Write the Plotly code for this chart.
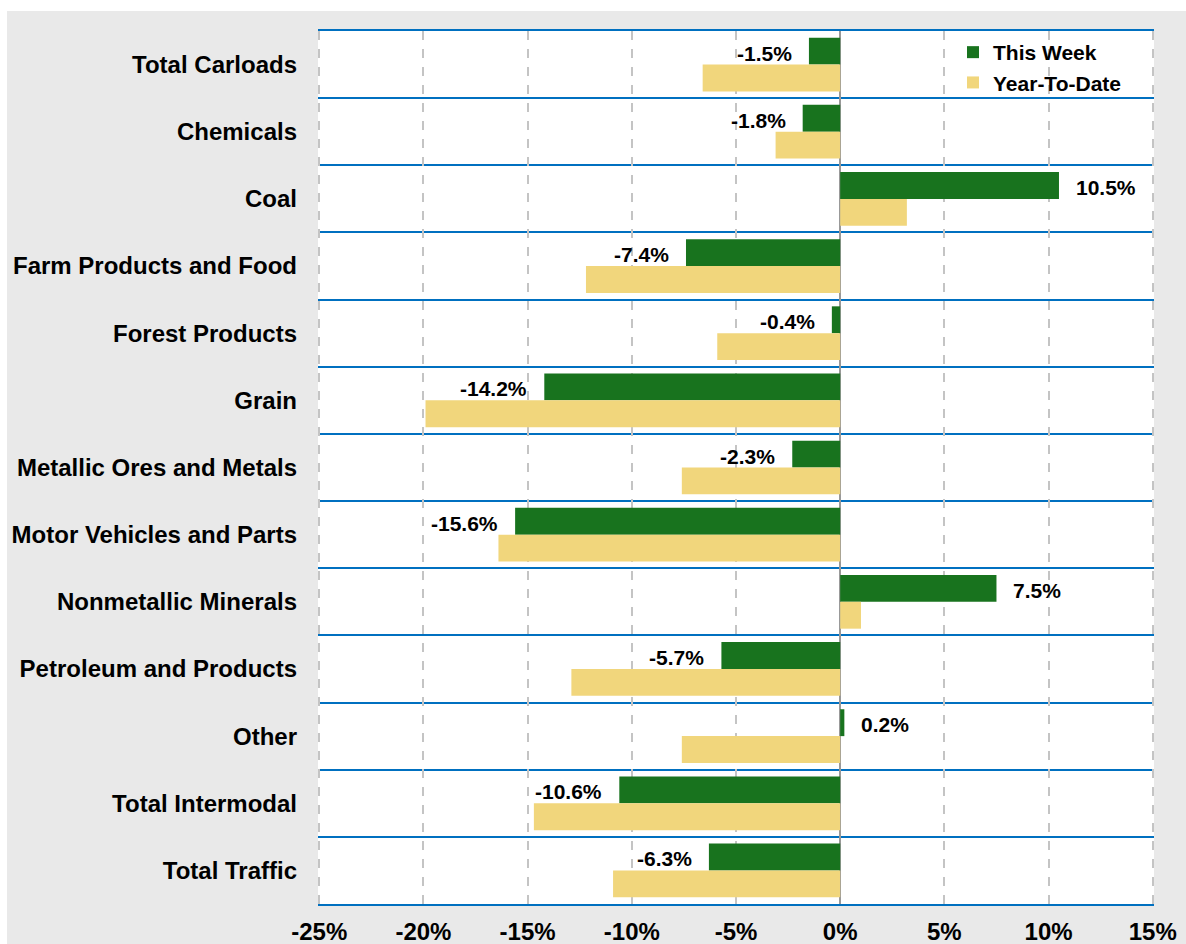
import plotly.graph_objects as go

categories = ["Total Carloads", "Chemicals", "Coal", "Farm Products and Food", "Forest Products",
              "Grain", "Metallic Ores and Metals", "Motor Vehicles and Parts", "Nonmetallic Minerals",
              "Petroleum and Products", "Other", "Total Intermodal", "Total Traffic"]
this_week = [-1.5, -1.8, 10.5, -7.4, -0.4, -14.2, -2.3, -15.6, 7.5, -5.7, 0.2, -10.6, -6.3]
year_to_date = [-6.6, -3.1, 3.2, -12.2, -5.9, -19.9, -7.6, -16.4, 1.0, -12.9, -7.6, -14.7, -10.9]
x_ticks = [-25, -20, -15, -10, -5, 0, 5, 10, 15]

FONT = "Liberation Sans, Arial, sans-serif"
GREEN = "#18731e"
YELLOW = "#f1d67c"
BLUE = "#0070c0"

pos = list(range(len(categories)))
boundaries = [i - 0.5 for i in range(len(categories) + 1)]

fig = go.Figure()
fig.add_trace(go.Bar(x=this_week, y=pos, orientation="h", name="This Week",
                     marker=dict(color=GREEN, line=dict(width=0)), width=0.4, offset=-0.4))
fig.add_trace(go.Bar(x=year_to_date, y=pos, orientation="h", name="Year-To-Date",
                     marker=dict(color=YELLOW, line=dict(width=0)), width=0.4, offset=0.0))

annotations = []
for i, v in enumerate(this_week):
    annotations.append(dict(
        x=v, y=i - 0.2, xref="x", yref="y", text=f"{v:.1f}%", showarrow=False,
        xanchor="right" if v < 0 else "left", xshift=-15 if v < 0 else 15, yshift=-2,
        font=dict(family=FONT, size=21, color="black", weight="bold")))

W, H = 1186, 944
ml, mr, mt, mb = 318, 32, 31, 40
pw, ph = W - ml - mr, H - mt - mb
x_range = [-25.06, 15.06]
zero_pos = (0 - x_range[0]) / (x_range[1] - x_range[0])

shapes = [
    dict(type="rect", xref="paper", yref="paper",
         x0=(7 - ml) / pw, x1=(W + 20 - ml) / pw,
         y0=(H - mb - (H + 20)) / ph, y1=(H - mb - 11) / ph,
         fillcolor="#e9e9e9", line=dict(width=0), layer="below"),
    dict(type="rect", xref="paper", yref="paper", x0=0, x1=1, y0=0, y1=1,
         fillcolor="white", line=dict(width=0), layer="below"),
]

fig.update_layout(
    width=W, height=H, autosize=False,
    margin=dict(l=ml, r=mr, t=mt, b=mb, autoexpand=False),
    paper_bgcolor="white", plot_bgcolor="white",
    barmode="overlay",
    font=dict(family=FONT, color="black"),
    shapes=shapes,
    annotations=annotations,
    showlegend=True,
    legend=dict(x=(953 - ml) / pw, y=1 - (32 - mt) / ph, xanchor="left", yanchor="top",
                bgcolor="rgba(0,0,0,0)", tracegroupgap=0,
                font=dict(family=FONT, size=21, color="black", weight="bold")),
    xaxis=dict(range=x_range, tickvals=x_ticks, ticktext=[f"{t}%" for t in x_ticks],
               showgrid=True, gridcolor="#c4c4c4", gridwidth=1.5, griddash="dash",
               zeroline=True, zerolinecolor="#999999", zerolinewidth=2,
               showline=True, linecolor=BLUE, linewidth=2, mirror=True,
               ticks="", ticklabelstandoff=5, automargin=False,
               tickfont=dict(family=FONT, size=24, color="black", weight="bold")),
    yaxis=dict(range=[12.5, -0.5], tickvals=pos, ticktext=categories,
               showgrid=False, zeroline=False, showline=False, ticks="",
               ticklabelstandoff=20, automargin=False,
               tickfont=dict(family=FONT, size=24, color="black", weight="bold"),
               minor=dict(tickvals=boundaries, showgrid=True, gridcolor=BLUE, gridwidth=2, ticks="")),
    yaxis2=dict(range=[12.5, -0.5], overlaying="y", anchor="free", position=zero_pos, side="left",
                tickvals=boundaries, ticks="outside", ticklen=7, tickwidth=2, tickcolor="#999999",
                showticklabels=False, showgrid=False, zeroline=False, showline=False,
                automargin=False),
)

fig.write_html("out.html", config={"displayModeBar": False},
               post_script="document.body.style.margin='0';document.body.style.overflow='hidden';")
